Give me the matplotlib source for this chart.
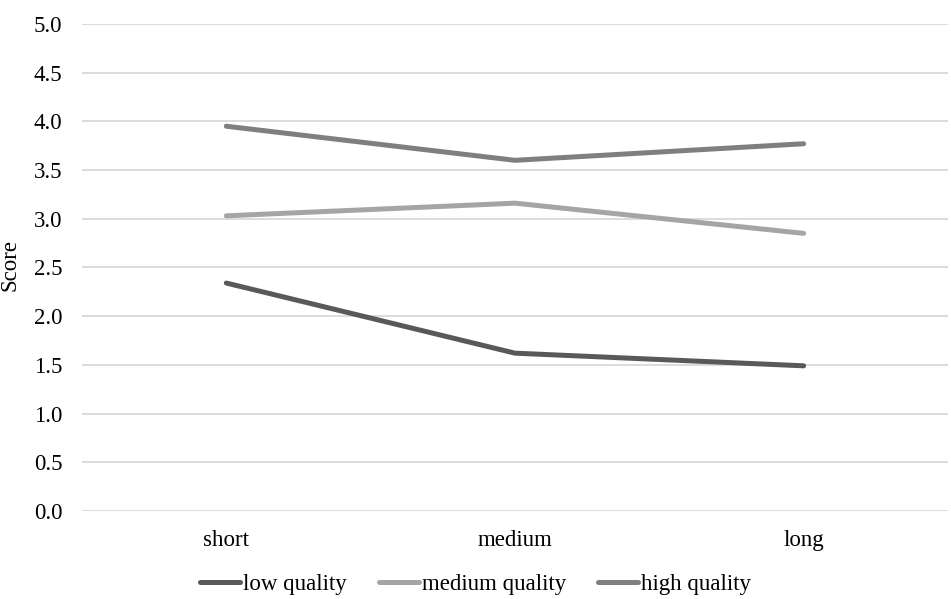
import numpy as np
import matplotlib.pyplot as plt

plt.rcParams['font.family'] = ['Liberation Serif', 'DejaVu Serif']

# Datos
categories = ['short', 'medium', 'long']
low_quality = [2.34, 1.62, 1.49]
medium_quality = [3.03, 3.16, 2.85]
high_quality = [3.95, 3.60, 3.77]
y_ticks = np.arange(0, 5.01, 0.5)

fig = plt.figure(figsize=(9.51, 5.99), dpi=100)
ax = fig.add_axes([0.0862, 0.147, 0.9106, 0.813])

x = np.arange(len(categories))
ax.plot(x, low_quality, color='#595959', lw=3.6, label='low quality', solid_capstyle='round')
ax.plot(x, medium_quality, color='#a5a5a5', lw=3.6, label='medium quality', solid_capstyle='round')
ax.plot(x, high_quality, color='#7f7f7f', lw=3.6, label='high quality', solid_capstyle='round')

ax.set_xlim(-0.5, 2.5)
ax.set_ylim(0, 5)
ax.set_yticks(y_ticks)
ax.set_yticklabels([f'{v:.1f}' for v in y_ticks], fontsize=16.5)
ax.set_xticks(x)
ax.set_xticklabels(categories, fontsize=16.5)
ax.tick_params(length=0)
ax.tick_params(axis='x', pad=14)
ax.tick_params(axis='y', pad=14)
ax.grid(axis='y', color='#d9d9d9', lw=1.3)
ax.set_axisbelow(True)
for sp in ax.spines.values():
    sp.set_visible(False)

fig.text(0.011, 0.558, 'Score', rotation=90, ha='center', va='center', fontsize=16.5)

fig.legend(loc='lower center', bbox_to_anchor=(0.5, -0.028), ncol=3, frameon=False,
           fontsize=16.5, handlelength=1.75, handletextpad=0.12, columnspacing=1.4)

fig.savefig('out.png', dpi=100)
